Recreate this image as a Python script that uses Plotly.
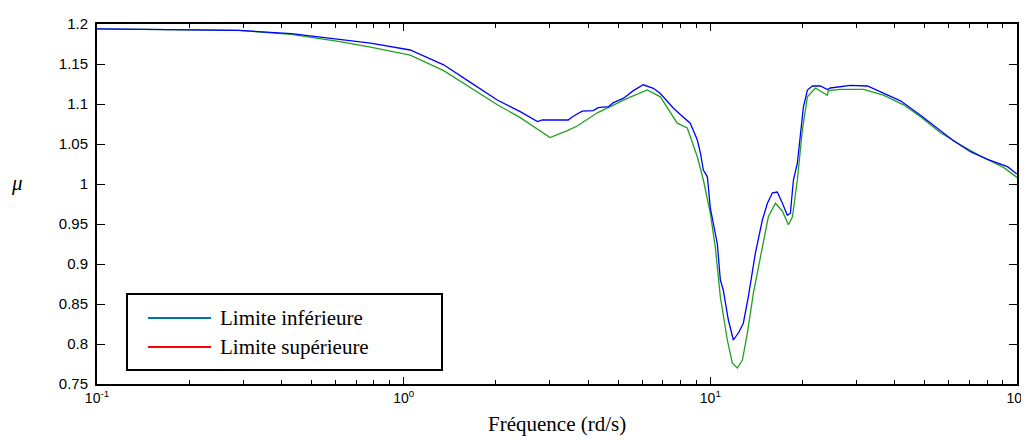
import plotly.graph_objects as go

# ---- Data ----
freq_blue = [0.1, 0.15, 0.22, 0.29, 0.43, 0.62, 0.78, 1.05, 1.35, 1.65, 2.02, 2.40, 2.73, 2.83,
             3.44, 3.55, 3.82, 4.15, 4.31, 4.65, 4.83, 5.2, 5.61, 6.04, 6.52, 6.87, 7.57, 7.98,
             8.6, 9.07, 9.28, 9.49, 9.78, 10.0, 10.23, 10.54, 10.78, 11.02, 11.45, 11.89, 12.4,
             12.81, 13.3, 14.03, 14.78, 15.35, 15.94, 16.54, 17.18, 17.83, 18.24, 18.66, 19.22,
             20.11, 20.73, 21.53, 22.85, 24.08, 24.64, 28.63, 32.53, 37.8, 41.69, 48.45,
             55.04, 62.08, 70.5, 80.13, 93.1, 100]
mu_blue = [1.194, 1.1935, 1.193, 1.192, 1.188, 1.181, 1.176, 1.1675, 1.149, 1.127, 1.105, 1.0904,
           1.078, 1.08, 1.08, 1.084, 1.091, 1.0917, 1.0954, 1.0967, 1.1017, 1.107, 1.1167, 1.124,
           1.1196, 1.113, 1.095, 1.087, 1.076, 1.055, 1.039, 1.0175, 1.009, 0.97, 0.95, 0.925,
           0.88, 0.8675, 0.83, 0.805, 0.815, 0.826, 0.859, 0.914, 0.955, 0.976, 0.989, 0.99,
           0.976, 0.961, 0.9635, 1.005, 1.026, 1.096, 1.1175, 1.1225, 1.1225, 1.118, 1.12,
           1.1233, 1.1225, 1.111, 1.104, 1.086, 1.07, 1.054, 1.0404, 1.0308, 1.0217, 1.0125]

freq_green = [0.1, 0.15, 0.22, 0.29, 0.43, 0.62, 0.78, 1.05, 1.35, 2.02, 2.4, 2.73, 3.0, 3.42,
              3.68, 4.28, 4.83, 5.36, 6.23, 6.87, 7.8, 8.41, 9.07, 9.49, 10.0, 10.38, 10.78,
              11.36, 11.8, 12.25, 12.72, 13.21, 13.82, 14.78, 15.46, 16.3, 17.18, 17.97, 18.52,
              19.22, 19.96, 20.73, 22.01, 24.08, 24.27, 26.55, 31.57, 36.68, 42.64,
              48.45, 56.3, 65.42, 76.02, 90.36, 100]
mu_green = [1.194, 1.1935, 1.193, 1.192, 1.187, 1.178, 1.171, 1.161, 1.1417, 1.099, 1.083, 1.0683,
            1.058, 1.0667, 1.0725, 1.089, 1.099, 1.107, 1.1175, 1.109, 1.076, 1.07, 1.034, 1.005,
            0.9635, 0.921, 0.859, 0.805, 0.776, 0.77, 0.78, 0.814, 0.864, 0.921, 0.959, 0.976,
            0.966, 0.949, 0.959, 1.005, 1.0675, 1.109, 1.12, 1.111, 1.1167, 1.1183, 1.1183, 1.111,
            1.099, 1.084, 1.064, 1.049, 1.035, 1.0208, 1.0083]

x_major = [0.1, 1, 10, 100]
x_major_text = ["10<sup>-1</sup>", "10<sup>0</sup>", "10<sup>1</sup>", "10<sup>2</sup>"]
x_minor = [m * d for d in (0.1, 1, 10) for m in range(2, 10)]
y_ticks = [0.75, 0.8, 0.85, 0.9, 0.95, 1.0, 1.05, 1.1, 1.15, 1.2]
y_text = ["0.75", "0.8", "0.85", "0.9", "0.95", "1", "1.05", "1.1", "1.15", "1.2"]

legend_labels = ["Limite inférieure", "Limite supérieure"]
legend_colors = ["#0072BD", "#FF0000"]

fig = go.Figure()
fig.add_trace(go.Scatter(x=freq_green, y=mu_green, mode="lines", name="Limite inférieure",
                         line=dict(color="#22A022", width=1.3), showlegend=False))
fig.add_trace(go.Scatter(x=freq_blue, y=mu_blue, mode="lines", name="Limite supérieure",
                         line=dict(color="#0000FF", width=1.3), showlegend=False))

# The page body has an 8px default margin: the figure starts at (8, 8) on the page.
OFF = 8
W, H = 1029, 432
L, R, T, B = 89, 20, 16, 56
X0, X1 = OFF + L, OFF + W - R      # plot area on the page (97 .. 1017)
Y0, Y1 = OFF + T, OFF + H - B      # (24 .. 384)
def px(x):
    return (x - X0) / (X1 - X0)
def py(y):
    return 1 - (y - Y0) / (Y1 - Y0)

shapes = [dict(type="rect", xref="paper", yref="paper", x0=px(127), x1=px(442), y0=py(370), y1=py(294),
               line=dict(color="black", width=2), fillcolor="white", layer="above")]
annotations = []
for i, (lab, col) in enumerate(zip(legend_labels, legend_colors)):
    yy = 318 + i * 29
    shapes.append(dict(type="line", xref="paper", yref="paper", x0=px(148), x1=px(211),
                       y0=py(yy), y1=py(yy), line=dict(color=col, width=2), layer="above"))
    annotations.append(dict(text=lab, xref="paper", yref="paper", x=px(218), y=py(yy),
                            xanchor="left", yanchor="middle", showarrow=False,
                            font=dict(family="Liberation Serif, Times New Roman, serif", size=21, color="black")))

annotations.append(dict(text="<i>μ</i>", xref="paper", yref="paper", x=px(17), y=py(183),
                        xanchor="center", yanchor="middle", showarrow=False,
                        font=dict(family="Liberation Serif, Times New Roman, serif", size=21, color="black")))
annotations.append(dict(text="Fréquence (rd/s)", xref="paper", yref="paper", x=0.5, y=py(424),
                        xanchor="center", yanchor="middle", showarrow=False,
                        font=dict(family="Liberation Serif, Times New Roman, serif", size=21, color="black")))

fig.update_layout(
    width=W, height=H,
    margin=dict(l=L, r=R, t=T, b=B, autoexpand=False),
    paper_bgcolor="white", plot_bgcolor="white",
    showlegend=False,
    shapes=shapes, annotations=annotations,
    xaxis=dict(type="log", range=[-1, 2], tickvals=x_major, ticktext=x_major_text,
               automargin=False, ticklabeloverflow="allow",
               ticks="inside", ticklen=7, tickwidth=1, tickcolor="black",
               minor=dict(tickvals=x_minor, ticks="inside", ticklen=4, tickcolor="black", showgrid=False),
               showline=True, linecolor="black", linewidth=2, mirror="ticks",
               showgrid=False, zeroline=False,
               tickfont=dict(family="Liberation Sans, Arial, sans-serif", size=14, color="black")),
    yaxis=dict(range=[0.75, 1.2], tickvals=y_ticks, ticktext=y_text,
               automargin=False,
               ticks="inside", ticklen=8, tickwidth=1, tickcolor="black",
               ticklabelstandoff=4,
               showline=True, linecolor="black", linewidth=2, mirror="ticks",
               showgrid=False, zeroline=False,
               tickfont=dict(family="Liberation Sans, Arial, sans-serif", size=15, color="black")),
)

fig.write_html("out.html", config={"displayModeBar": False})
